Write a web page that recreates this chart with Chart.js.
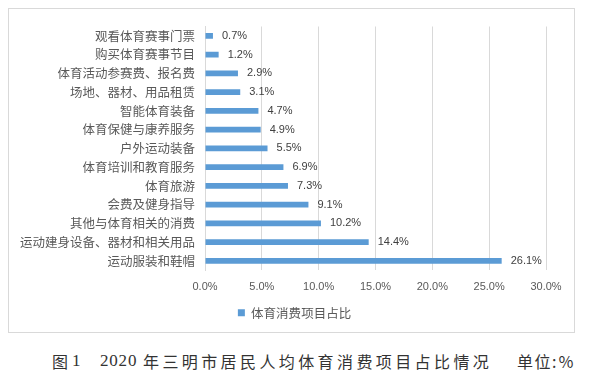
<!DOCTYPE html>
<html lang="zh">
<head>
  <meta charset="UTF-8" />
  <title>2020年三明市居民人均体育消费项目占比情况</title>
  <script src="https://cdn.jsdelivr.net/npm/chart.js"></script>
  <style>
    body {
      margin: 0;
      background: #fff;
      width: 600px;
      height: 391px;
      position: relative;
      overflow: hidden;
    }

    .box {
      position: absolute;
      left: 8px;
      top: 8px;
      width: 565px;
      height: 323px;
      border: 1px solid #d9d9d9;
    }

    .caption span {
      position: absolute;
      top: 351px;
      font-family: 'Noto Sans CJK SC', serif;
      font-size: 16px;
      line-height: 20px;
      color: #333;
      white-space: pre;
    }

    .caption .num {
      font-family: 'Liberation Serif', serif;
      font-size: 17px;
      letter-spacing: 0.8px;
    }
  </style>
</head>
<body>
  <div class="box"><canvas id="chart"></canvas></div>
  <div class="caption">
    <span style="left:52px">图</span>
    <span class="num" style="left:72px">1</span>
    <span class="num" style="left:100px">2020</span>
    <span style="left:143px; letter-spacing:3.4px">年三明市居民人均体育消费项目占比情况</span>
    <span style="left:517px; letter-spacing:1.5px">单位:％</span>
  </div>

  <script>
    const categories = [
      '观看体育赛事门票',
      '购买体育赛事节目',
      '体育活动参赛费、报名费',
      '场地、器材、用品租赁',
      '智能体育装备',
      '体育保健与康养服务',
      '户外运动装备',
      '体育培训和教育服务',
      '体育旅游',
      '会费及健身指导',
      '其他与体育相关的消费',
      '运动建身设备、器材和相关用品',
      '运动服装和鞋帽'
    ];
    const shares = [0.7, 1.2, 2.9, 3.1, 4.7, 4.9, 5.5, 6.9, 7.3, 9.1, 10.2, 14.4, 26.1];
    const seriesName = '体育消费项目占比';

    const sansFont = "'Noto Sans CJK SC', 'Noto Sans', sans-serif";

    // value labels at the end of each bar
    const barLabels = {
      id: 'barLabels',
      afterDatasetsDraw(chart) {
        const ctx = chart.ctx;
        const meta = chart.getDatasetMeta(0);
        ctx.save();
        ctx.font = "11px 'Liberation Sans', 'Noto Sans', sans-serif";
        ctx.fillStyle = '#404040';
        ctx.textAlign = 'left';
        ctx.textBaseline = 'middle';
        meta.data.forEach((bar, i) => {
          ctx.fillText(shares[i].toFixed(1) + '%', bar.x + 9, bar.y);
        });
        ctx.restore();
      }
    };

    // legend sits centred on the whole box, not just left of the right padding
    const legendShift = {
      id: 'legendShift',
      afterLayout(chart) {
        chart.legend.left += 17;
        chart.legend.right += 17;
      }
    };

    const canvas = document.getElementById('chart');
    canvas.width = 565;
    canvas.height = 323;

    new Chart(canvas, {
      type: 'bar',
      data: {
        labels: categories,
        datasets: [{
          label: seriesName,
          data: shares,
          backgroundColor: '#5b9bd5',
          barPercentage: 0.3,
          categoryPercentage: 1.0
        }]
      },
      options: {
        indexAxis: 'y',
        responsive: false,
        animation: false,
        layout: {
          padding: { top: 10, right: 28, left: 0, bottom: 3 }
        },
        scales: {
          x: {
            min: 0,
            max: 30,
            ticks: {
              stepSize: 5,
              padding: 10,
              color: '#595959',
              font: { family: "'Liberation Sans', 'Noto Sans', sans-serif", size: 11 },
              callback: v => v.toFixed(1) + '%'
            },
            grid: { color: '#d9d9d9', drawTicks: false },
            border: { display: false }
          },
          y: {
            afterFit(scale) { scale.width = 196; },
            ticks: {
              autoSkip: false,
              padding: 10,
              color: '#595959',
              font: { family: sansFont, size: 12.5 }
            },
            grid: { display: false, drawTicks: false },
            border: { display: true, color: '#d9d9d9' }
          }
        },
        plugins: {
          legend: {
            position: 'bottom',
            labels: {
              usePointStyle: true,
              pointStyle: 'rect',
              boxWidth: 7,
              boxHeight: 7,
              padding: 3,
              color: '#595959',
              font: { family: sansFont, size: 12.5 }
            }
          },
          tooltip: { enabled: false }
        }
      },
      plugins: [barLabels, legendShift]
    });
  </script>
</body>
</html>
